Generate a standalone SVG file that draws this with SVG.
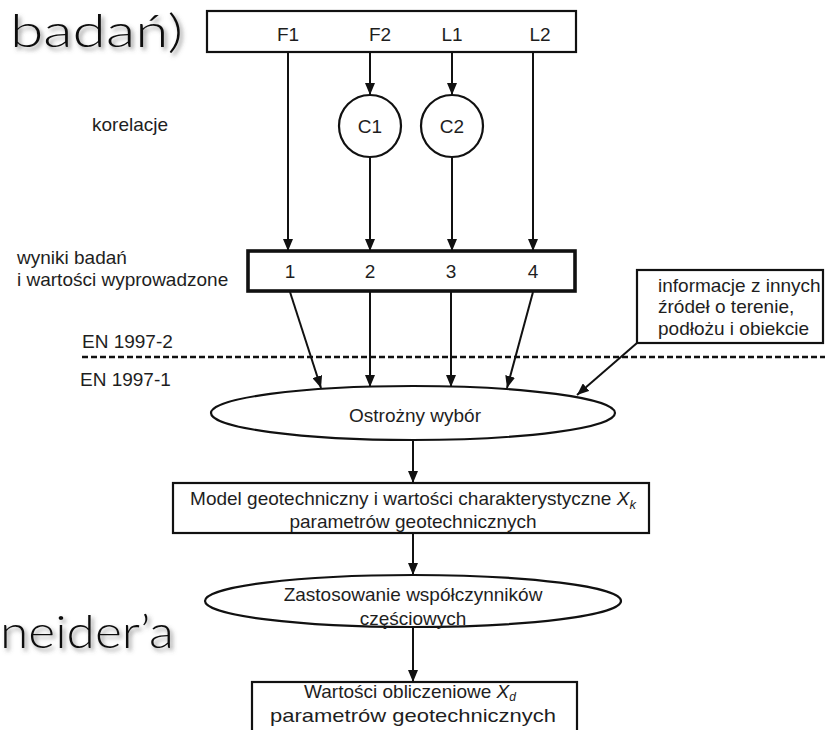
<svg xmlns="http://www.w3.org/2000/svg" width="825" height="730" viewBox="0 0 825 730">
  <style>
    .lbl { font-family: "Liberation Sans", Arial, sans-serif; font-size: 19px; fill: #1e1e1e; }
    .mid { text-anchor: middle; }
    .box { fill: #fff; stroke: #111; stroke-width: 2.2; }
    .thick { fill: #fff; stroke: #111; stroke-width: 3.6; }
    .conn { stroke: #111; stroke-width: 2; fill: none; marker-end: url(#arrow); }
    .title { font-family: Lato, "DejaVu Sans", sans-serif; font-weight: 300; font-size: 46px; fill: #111; filter: url(#shadow); }
  </style>
  <defs>
    <marker id="arrow" viewBox="0 0 12 10" markerWidth="12" markerHeight="10" refX="12" refY="5" orient="auto" markerUnits="userSpaceOnUse">
      <path d="M0,0 L12,5 L0,10 z" fill="#111"/>
    </marker>
    <filter id="shadow" x="-10%" y="-30%" width="130%" height="170%">
      <feDropShadow dx="2.5" dy="3" stdDeviation="2" flood-color="#555" flood-opacity="0.65"/>
    </filter>
  </defs>

  <rect width="825" height="730" fill="#fff"/>

  <!-- slide title fragments -->
  <text class="title" x="10" y="47" textLength="173" lengthAdjust="spacingAndGlyphs">badań)</text>
  <text class="title" x="0" y="648" textLength="174" lengthAdjust="spacingAndGlyphs">neider’a</text>

  <!-- side labels -->
  <g id="side-labels">
    <text class="lbl" x="92" y="131">korelacje</text>
    <text class="lbl" x="17" y="264">wyniki badań</text>
    <text class="lbl" x="17" y="286">i wartości wyprowadzone</text>
    <text class="lbl" x="82" y="348">EN 1997-2</text>
    <text class="lbl" x="80" y="386">EN 1997-1</text>
  </g>

  <!-- boundary between EN 1997-2 and EN 1997-1 -->
  <line x1="82" y1="357" x2="825" y2="357" stroke="#111" stroke-width="2.5" stroke-dasharray="6,3"/>

  <!-- connectors -->
  <g id="connectors">
    <line class="conn" x1="288" y1="52" x2="288" y2="251"/>
    <line class="conn" x1="370" y1="52" x2="370" y2="95"/>
    <line class="conn" x1="452" y1="52" x2="452" y2="95"/>
    <line class="conn" x1="533" y1="52" x2="533" y2="251"/>
    <line class="conn" x1="370" y1="157" x2="370" y2="251"/>
    <line class="conn" x1="452" y1="157" x2="452" y2="251"/>
    <line class="conn" x1="290" y1="292" x2="321" y2="388"/>
    <line class="conn" x1="370" y1="292" x2="370" y2="387"/>
    <line class="conn" x1="451" y1="292" x2="451" y2="387"/>
    <line class="conn" x1="533" y1="292" x2="507" y2="388"/>
    <line class="conn" x1="637" y1="343" x2="577" y2="395"/>
    <line class="conn" x1="413" y1="440" x2="413" y2="483"/>
    <line class="conn" x1="413" y1="533" x2="413" y2="575"/>
    <line class="conn" x1="413" y1="627" x2="413" y2="682"/>
  </g>

  <g id="sources">
    <rect class="box" x="207" y="11" width="369" height="41"/>
    <text class="lbl mid" x="288" y="41">F1</text>
    <text class="lbl mid" x="380" y="41">F2</text>
    <text class="lbl mid" x="452" y="41">L1</text>
    <text class="lbl mid" x="540" y="41">L2</text>
  </g>

  <g id="c1">
    <circle class="box" cx="370" cy="126" r="31"/>
    <text class="lbl mid" x="370" y="133">C1</text>
  </g>
  <g id="c2">
    <circle class="box" cx="452" cy="126" r="31"/>
    <text class="lbl mid" x="452" y="133">C2</text>
  </g>

  <g id="results">
    <rect class="thick" x="248" y="251" width="327" height="40"/>
    <text class="lbl mid" x="290" y="278">1</text>
    <text class="lbl mid" x="370" y="278">2</text>
    <text class="lbl mid" x="451" y="278">3</text>
    <text class="lbl mid" x="533" y="278">4</text>
  </g>

  <g id="other-info">
    <rect class="box" x="637" y="270" width="186" height="73"/>
    <text class="lbl" x="658" y="292">informacje z innych</text>
    <text class="lbl" x="658" y="313">źródeł o terenie,</text>
    <text class="lbl" x="658" y="335">podłożu i obiekcie</text>
  </g>

  <g id="selection">
    <ellipse class="box" cx="413" cy="413" rx="202" ry="27"/>
    <text class="lbl mid" x="415" y="422">Ostrożny wybór</text>
  </g>

  <g id="model">
    <rect class="box" x="173" y="483" width="476" height="50"/>
    <text class="lbl mid" x="413" y="505">Model geotechniczny i wartości charakterystyczne <tspan font-style="italic">X</tspan><tspan font-style="italic" font-size="13" dy="4">k</tspan></text>
    <text class="lbl mid" x="413" y="528">parametrów geotechnicznych</text>
  </g>

  <g id="partial-factors">
    <ellipse class="box" cx="413" cy="601" rx="208" ry="26"/>
    <text class="lbl mid" x="413" y="601">Zastosowanie współczynników</text>
    <text class="lbl mid" x="413" y="625">częściowych</text>
  </g>

  <g id="design-values">
    <rect class="box" x="252" y="682" width="325" height="60"/>
    <text class="lbl mid" x="410" y="698">Wartości obliczeniowe <tspan font-style="italic">X</tspan><tspan font-style="italic" font-size="12" dy="3">d</tspan></text>
    <text class="lbl mid" x="413" y="722" textLength="286" lengthAdjust="spacingAndGlyphs">parametrów geotechnicznych</text>
  </g>
</svg>
